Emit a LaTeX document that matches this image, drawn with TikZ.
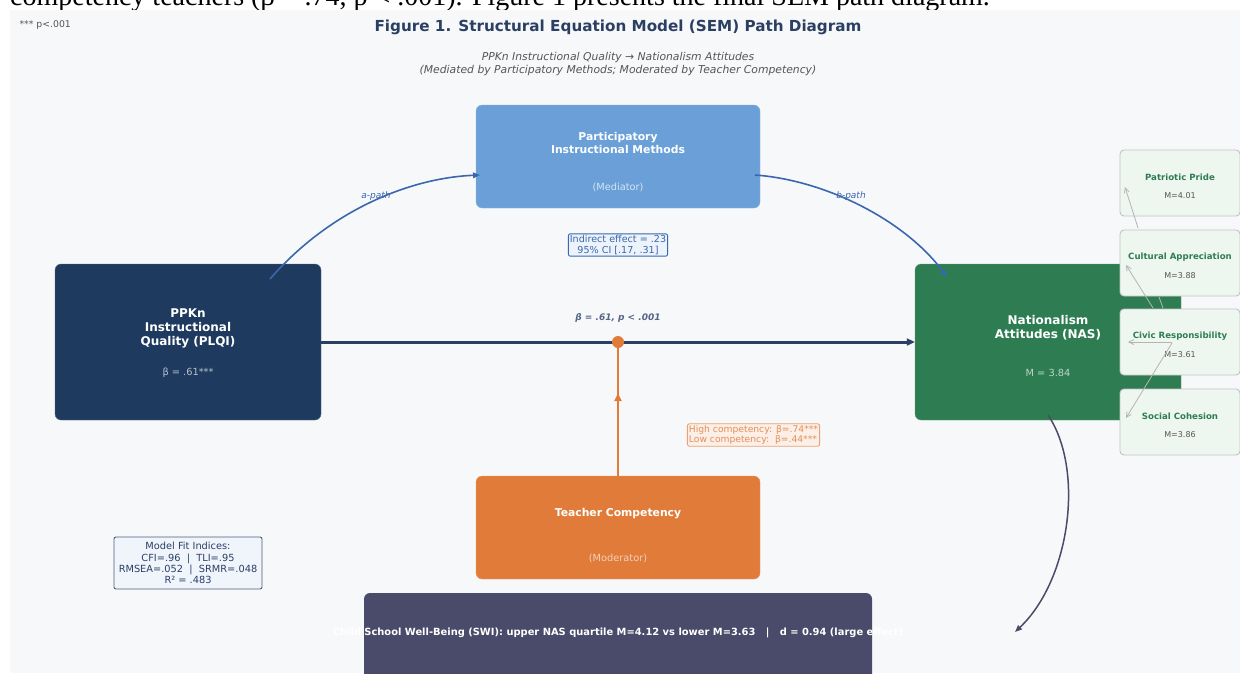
\documentclass[tikz,border=0pt]{standalone}
\usepackage{fontspec}
\setmainfont{DejaVu Sans}
\newfontfamily\docserif{Liberation Serif}
\usetikzlibrary{arrows.meta}

\definecolor{panelbg}{HTML}{F7F8FA}
\definecolor{navy}{HTML}{1E3A5F}
\definecolor{titlenavy}{HTML}{2B3F63}
\definecolor{pathnavy}{HTML}{2C3E66}
\definecolor{medblue}{HTML}{6A9FD8}
\definecolor{apath}{HTML}{3A67AD}
\definecolor{nasgreen}{HTML}{2E7D52}
\definecolor{modorange}{HTML}{E07B39}
\definecolor{swibar}{HTML}{4A4A6A}
\definecolor{indfill}{HTML}{EEF6F0}
\definecolor{indgray}{HTML}{B4B4B4}
\definecolor{notegray}{HTML}{555555}

\tikzset{
  bigbox/.style={rectangle,rounded corners=6pt,minimum width=284pt,minimum height=103pt,inner sep=0pt},
  sidebox/.style={rectangle,rounded corners=6pt,minimum width=266pt,minimum height=156pt,inner sep=0pt},
  indbox/.style={rectangle,rounded corners=4pt,minimum width=120pt,minimum height=66pt,inner sep=0pt,fill=indfill,draw=indgray!80,line width=0.9pt},
  boxtitle/.style={text=white,align=center,font=\bfseries\fontsize{10.8}{12.5}\selectfont},
  boxsub/.style={font=\fontsize{9.8}{11}\selectfont},
  statbox/.style={rectangle,rounded corners=2pt,align=center,inner sep=1.5pt,line width=0.9pt,font=\fontsize{9.6}{10.8}\selectfont},
  pathlabel/.style={text=apath,font=\itshape\fontsize{9}{11}\selectfont},
  indarrow/.style={draw=indgray,line width=0.8pt,-{Straight Barb[length=5pt,width=5pt]}},
  bigarrow/.style={line width=2pt,-{Triangle[length=8pt,width=7pt]}}
}

\begin{document}
\begin{tikzpicture}[x=1pt,y=-1pt]
  \useasboundingbox (0,0) rectangle (1240,673);
  \node[anchor=base west,inner sep=0pt,font=\docserif\fontsize{28}{28}\selectfont] (lead) at (10,5) {competency teachers (β = .74, p < .001). Figure 1 presents the final SEM path diagram.};
  \fill[panelbg] (10,10) rectangle (1240,673);

  % headings
  \node[anchor=west,text=notegray,font=\fontsize{9.3}{10}\selectfont] (note) at (16,25) {*** p<.001};
  \node[text=titlenavy,font=\bfseries\fontsize{15.2}{17}\selectfont] (title) at (618,27) {Figure 1. Structural Equation Model (SEM) Path Diagram};
  \node[text=notegray,align=center,font=\itshape\fontsize{10.8}{12.5}\selectfont] (subtitle) at (618,64) {PPKn Instructional Quality → Nationalism Attitudes\\(Mediated by Participatory Methods; Moderated by Teacher Competency)};

  % latent constructs
  \node[bigbox,fill=medblue,draw=white!25!medblue] (med) at (618,156.5) {};
  \node[boxtitle] (medtitle) at (618,143) {Participatory\\Instructional Methods};
  \node[boxsub,text=white!72!medblue] (medsub) at (618,187) {(Mediator)};

  \node[sidebox,fill=navy,draw=white!25!navy] (plqi) at (188,342) {};
  \node[boxtitle,font=\bfseries\fontsize{12}{14}\selectfont] (plqititle) at (188,328) {PPKn\\Instructional\\Quality (PLQI)};
  \node[boxsub,text=white!68!navy] (plqibeta) at (188,373) {β = .61***};

  \node[sidebox,fill=nasgreen,draw=white!25!nasgreen] (nas) at (1048,342) {};
  \node[boxtitle,font=\bfseries\fontsize{12}{14}\selectfont] (nastitle) at (1048,328) {Nationalism\\Attitudes (NAS)};
  \node[boxsub,text=white!68!nasgreen] (nasmean) at (1048,373) {M = 3.84};

  \node[bigbox,fill=modorange,draw=white!25!modorange] (mod) at (618,527.5) {};
  \node[boxtitle] (modtitle) at (618,514) {Teacher Competency};
  \node[boxsub,text=white!65!modorange] (modsub) at (618,558) {(Moderator)};

  % indicators of NAS
  \foreach \i/\yc/\ttl/\mv in {1/183/Patriotic Pride/4.01,2/263/Cultural Appreciation/3.88,3/342/Civic Responsibility/3.61,4/422/Social Cohesion/3.86}{
    \node[indbox] (ind\i) at (1180,\yc) {};
    \node[text=nasgreen,font=\bfseries\fontsize{8.6}{10}\selectfont] (indt\i) at (1180,\yc-6) {\ttl};
    \node[text=notegray,font=\fontsize{8}{10}\selectfont] (indm\i) at (1180,\yc+13) {M=\mv};
  }
  \coordinate (g1s) at (1138,228); \coordinate (g1e) at (1125,187);
  \coordinate (g2s) at (1153,308); \coordinate (g2e) at (1126,265);
  \coordinate (g3s) at (1172,342); \coordinate (g3e) at (1128,342);
  \coordinate (g4s) at (1172,343); \coordinate (g4e) at (1126,418);
  \coordinate (g5s) at (1163,308); \coordinate (g5e) at (1159,297);
  \draw[indarrow] (g1s) -- (g1e);
  \draw[indarrow] (g2s) -- (g2e);
  \draw[indarrow] (g3s) -- (g3e);
  \draw[indarrow] (g4s) -- (g4e);
  \draw[draw=indgray,line width=0.8pt] (g5s) -- (g5e);

  % mediation paths
  \coordinate (as) at (270,279); \coordinate (ae) at (480,175);
  \coordinate (bs) at (755,175); \coordinate (be) at (947,277);
  \draw[apath,line width=1.6pt,-{Triangle[length=7pt,width=5.5pt]}] (as) .. controls (330,210) and (410,178) .. (ae);
  \draw[apath,line width=1.6pt,-{Triangle[length=7pt,width=5.5pt]}] (bs) .. controls (825,180) and (905,220) .. (be);
  \node[pathlabel] (alab) at (376,196) {a-path};
  \node[pathlabel] (blab) at (851,196) {b-path};
  \node[statbox,draw=apath,fill=medblue!12,text=apath] (indirect) at (618,245) {Indirect effect = .23\\95\% CI [.17, .31]};

  % direct path and moderation
  \draw[bigarrow,pathnavy,line width=3pt] (plqi.east) -- (nas.west);
  \node[text=pathnavy!80,font=\bfseries\itshape\fontsize{9}{11}\selectfont] (dirlab) at (618,318) {β = .61, p < .001};
  \node[circle,fill=modorange,inner sep=0pt,minimum size=12pt] (dot) at (618,342) {};
  \coordinate (modtip) at (618,393);
  \draw[modorange,line width=2pt] (mod.north) -- (dot);
  \draw[modorange,line width=2pt,-{Triangle[length=8pt,width=7pt]}] (mod.north) -- (modtip);
  \node[statbox,draw=modorange!70,fill=modorange!12,text=modorange!85,align=left,font=\fontsize{9.2}{10.5}\selectfont] (comp) at (753.5,435) {High competency: β=.74***\\Low competency:~~β=.44***};

  % fit and outcome
  \node[statbox,draw=pathnavy!85,fill=medblue!10,text=pathnavy,minimum width=148pt,minimum height=52pt,font=\fontsize{9.8}{11.3}\selectfont] (fit) at (188,563) {Model Fit Indices:\\CFI=.96~~|~~TLI=.95\\RMSEA=.052~~|~~SRMR=.048\\R² = .483};
  \node[rectangle,rounded corners=6pt,fill=swibar,minimum width=508pt,minimum height=100pt] (swi) at (618,643) {};
  \node[text=white,font=\bfseries\fontsize{9.9}{11}\selectfont] (switext) at (618,633) {Child School Well-Being (SWI): upper NAS quartile M=4.12 vs lower M=3.63~~~|~~~d = 0.94 (large effect)};
  \coordinate (nasb) at (1048,415); \coordinate (switip) at (1015,632);
  \draw[swibar,line width=1.5pt,-{Triangle[length=7pt,width=5.5pt]}] (nasb) .. controls (1085,470) and (1070,580) .. (switip);
\end{tikzpicture}
\end{document}
